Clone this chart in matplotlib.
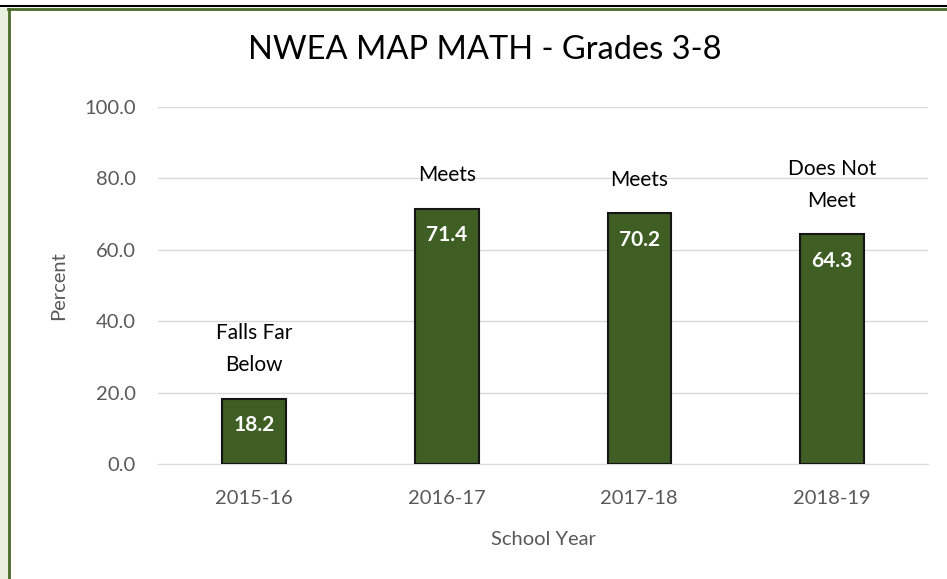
import matplotlib.pyplot as plt
from matplotlib.lines import Line2D
from matplotlib.patches import Rectangle

years = ['2015-16', '2016-17', '2017-18', '2018-19']
percent = [18.2, 71.4, 70.2, 64.3]
ratings = ['Falls Far\nBelow', 'Meets', 'Meets', 'Does Not\nMeet']
yticks = [0, 20, 40, 60, 80, 100]

plt.rcParams['font.family'] = ['Lato', 'DejaVu Sans']

fig = plt.figure(figsize=(9.47, 5.79), dpi=100)
ax = fig.add_axes([0.1668, 0.1986, 0.8132, 0.6166])

# frame bits of the original screenshot
fig.patches.append(Rectangle((0, 0), 8 / 947, 1 - 8 / 579, transform=fig.transFigure,
                             facecolor='#e9f1de', edgecolor='none'))
fig.lines.append(Line2D([0, 1], [1 - 6 / 579] * 2, transform=fig.transFigure, color='black', lw=1.5))
fig.lines.append(Line2D([8 / 947, 1], [1 - 9 / 579] * 2, transform=fig.transFigure, color='#4a6b2a', lw=2))
fig.lines.append(Line2D([9 / 947] * 2, [0, 1 - 9 / 579], transform=fig.transFigure, color='#4a6b2a', lw=2))

x = range(len(years))
bars = ax.bar(x, percent, width=0.33, color='#3f5e24', edgecolor='#151515', linewidth=1.5, zorder=3)

for b, v, r in zip(bars, percent, ratings):
    cx = b.get_x() + b.get_width() / 2
    ax.annotate(f'{v:.1f}', (cx, v), xytext=(0, -19), textcoords='offset points',
                ha='center', va='center', color='white', fontsize=15, fontweight='bold', zorder=4)
    ax.annotate(r, (cx, v), xytext=(0, 17), textcoords='offset points',
                ha='center', va='bottom', color='black', fontsize=15, linespacing=1.75)

ax.set_xlim(-0.5, len(years) - 0.5)
ax.set_ylim(0, 100)
ax.set_yticks(yticks)
ax.set_yticklabels([f'{t:.1f}' for t in yticks])
ax.set_xticks(list(x))
ax.set_xticklabels(years)
ax.grid(axis='y', color='#d9d9d9', lw=1, zorder=0)
ax.tick_params(length=0, colors='#595959', labelsize=14.5)
ax.tick_params(axis='y', pad=16)
ax.tick_params(axis='x', pad=19)
for s in ['top', 'right', 'left']:
    ax.spines[s].set_visible(False)
ax.spines['bottom'].set_color('#d9d9d9')

ax.set_ylabel('Percent', color='#595959', fontsize=14.5, labelpad=12)
ax.set_xlabel('School Year', color='#595959', fontsize=14.5, labelpad=17)
fig.text(485 / 947, 1 - 50 / 579, 'NWEA MAP MATH - Grades 3-8', ha='center', va='center', fontsize=23.5)

fig.savefig('out.png', dpi=100)
